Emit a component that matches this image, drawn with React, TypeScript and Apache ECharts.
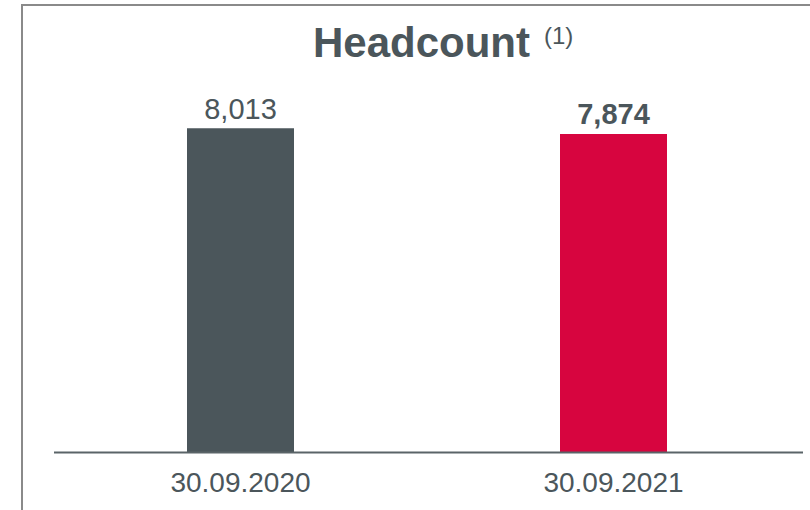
import React, { useEffect, useRef } from "react";
import * as echarts from "echarts";

const categories = ["30.09.2020", "30.09.2021"];
const values = [8013, 7874];
const barColors = ["#4b565b", "#d7053f"];
const labelWeights = ["normal", "bold"];
const titleText = "Headcount";
const footnoteMark = "(1)";

const TEXT = "#4b565b";
const FONT = "'Liberation Sans', Arial, Helvetica, sans-serif";

export default function App() {
  const ref = useRef<HTMLDivElement>(null);
  useEffect(() => {
    document.body.style.margin = "0";
    document.body.style.overflow = "hidden";
    const chart = echarts.init(ref.current!, null, { renderer: "svg" });
    chart.setOption({
      animation: false,
      backgroundColor: "#ffffff",
      grid: { left: 54, right: 10, top: 50, bottom: 57.5, containLabel: false },
      xAxis: {
        type: "category",
        data: categories,
        axisLine: { show: false },
        axisTick: { show: false },
        splitLine: { show: false },
        axisLabel: {
          color: TEXT,
          fontSize: 28,
          fontFamily: FONT,
          margin: 16,
        },
      },
      yAxis: {
        type: "value",
        min: 0,
        max: 9950,
        show: false,
      },
      series: [
        {
          type: "bar",
          barWidth: 107,
          data: values.map((v, i) => ({
            value: v,
            itemStyle: { color: barColors[i] },
            label: {
              show: true,
              position: "top",
              distance: 5,
              color: TEXT,
              fontSize: 29,
              fontFamily: FONT,
              fontWeight: labelWeights[i],
              formatter: (p: any) => Number(p.value).toLocaleString("en-US"),
            },
          })),
        },
      ],
      graphic: [
        {
          type: "line",
          z: 10,
          shape: { x1: 22, y1: 4, x2: 22, y2: 510 },
          style: { stroke: "#8a8a8a", lineWidth: 2 },
        },
        {
          type: "line",
          z: 10,
          shape: { x1: 21, y1: 5, x2: 810, y2: 5 },
          style: { stroke: "#8a8a8a", lineWidth: 2 },
        },
        {
          type: "line",
          z: 10,
          shape: { x1: 54, y1: 452.5, x2: 803, y2: 452.5 },
          style: { stroke: "#5a6468", lineWidth: 2 },
        },
        {
          type: "text",
          style: {
            text: titleText,
            x: 313,
            y: 42,
            verticalAlign: "middle",
            font: `bold 42px ${FONT}`,
            fill: TEXT,
          },
        },
        {
          type: "text",
          style: {
            text: footnoteMark,
            x: 544,
            y: 35,
            verticalAlign: "middle",
            font: `24px ${FONT}`,
            fill: TEXT,
          },
        },
      ],
    });
    return () => chart.dispose();
  }, []);
  return <div ref={ref} style={{ width: 810, height: 510 }} />;
}
